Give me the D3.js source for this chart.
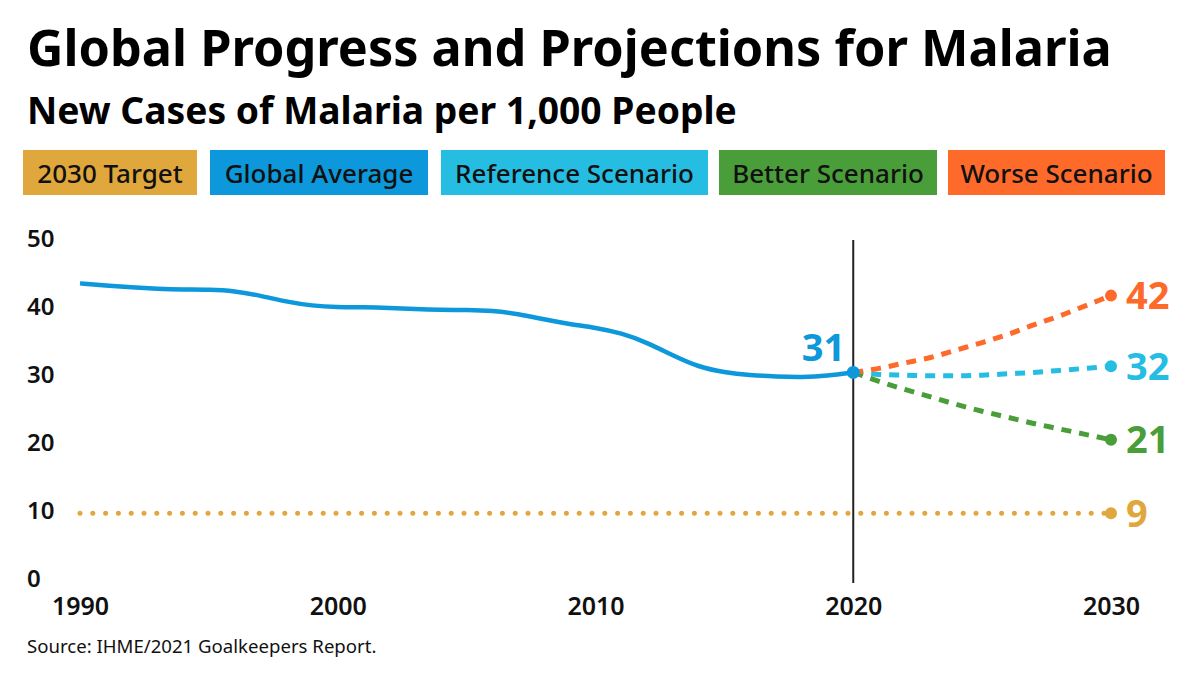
<!DOCTYPE html>
<html>
<head>
<meta charset="utf-8">
<script src="https://cdn.jsdelivr.net/npm/d3@7"></script>
<style>
  html, body { margin: 0; padding: 0; background: #fff; }
  svg { display: block; font-family: "Noto Sans", "Open Sans", sans-serif; }
</style>
</head>
<body>
<svg id="chart" width="1200" height="675"></svg>
<script>
// ---- data ----
const titleText = "Global Progress and Projections for Malaria";
const subtitleText = "New Cases of Malaria per 1,000 People";
const sourceText = "Source: IHME/2021 Goalkeepers Report.";

const legendLabels = ["2030 Target", "Global Average", "Reference Scenario", "Better Scenario", "Worse Scenario"];
const legendColors = ["#e0a83c", "#0c98da", "#26bde3", "#4a9e3a", "#fe6a2a"];

const xTicks = [1990, 2000, 2010, 2020, 2030];
const yTicks = [0, 10, 20, 30, 40, 50];

const globalYears = [1990,1991,1992,1993,1994,1995,1996,1997,1998,1999,2000,2001,2002,2003,2004,2005,2006,2007,2008,2009,2010,2011,2012,2013,2014,2015,2016,2017,2018,2019,2020];
const globalValues = [43.4,43.1,42.8,42.6,42.5,42.5,42.3,41.6,40.7,40.1,39.9,39.9,39.8,39.6,39.5,39.5,39.4,38.9,38.1,37.4,36.9,36.1,34.7,32.8,31.1,30.3,29.9,29.7,29.6,29.8,30.3];

const projYears = [2020,2021,2022,2023,2024,2025,2026,2027,2028,2029,2030];
const referenceValues = [30.3,30.0,29.9,29.8,29.8,29.9,30.1,30.3,30.6,30.9,31.2];
const betterValues = [30.3,29.0,27.8,26.7,25.6,24.6,23.7,22.8,22.0,21.2,20.4];
const worseValues = [30.3,30.9,31.7,32.5,33.6,34.7,35.9,37.3,38.6,40.1,41.6];

const targetYears = [1990, 2030];
const targetValues = [9.6, 9.6];

const endLabels = ["9", "31", "32", "21", "42"];

// ---- layout ----
const svg = d3.select("#chart");
const x = d3.scaleLinear().domain([1990, 2030]).range([80, 1111]);
const y = d3.scaleLinear().domain([0, 50]).range([578.5, 238.5]);

// Title
const title = svg.append("text").text(titleText)
  .attr("x", 27).attr("y", 66)
  .attr("font-weight", 700).attr("font-size", 50).attr("fill", "#000");
let tw = title.node().getComputedTextLength();
title.attr("font-size", 50 * 1085 / tw);

const sub = svg.append("text").text(subtitleText)
  .attr("x", 27).attr("y", 124)
  .attr("font-weight", 700).attr("font-size", 34).attr("fill", "#000");
let sw = sub.node().getComputedTextLength();
sub.attr("font-size", 34 * 710 / sw);

// Legend
const legendX = [23, 210, 441, 719, 948];
const legendR = [197, 428, 708, 937, 1165];
const lg = svg.append("g");
legendLabels.forEach((lab, i) => {
  lg.append("rect").attr("x", legendX[i]).attr("y", 150)
    .attr("width", legendR[i] - legendX[i]).attr("height", 45)
    .attr("fill", legendColors[i]);
  lg.append("text").text(lab)
    .attr("x", (legendX[i] + legendR[i]) / 2).attr("y", 173)
    .attr("text-anchor", "middle").attr("dominant-baseline", "central")
    .attr("font-size", 26).attr("font-weight", 500).attr("fill", "#111");
});

// Y axis labels
const yAxis = d3.axisLeft(y).tickValues(yTicks).tickSize(0).tickFormat(d3.format("d"));
const yg = svg.append("g").attr("transform", "translate(27,0)").call(yAxis);
yg.select(".domain").remove();
yg.selectAll("text").attr("x", 0).attr("text-anchor", "start").attr("dy", "0.32em")
  .attr("font-size", 24).attr("font-weight", 600).attr("fill", "#111")
  .attr("font-family", "'Noto Sans', sans-serif");

// X axis labels
const xAxis = d3.axisBottom(x).tickValues(xTicks).tickSize(0).tickFormat(d3.format("d"));
const xg = svg.append("g").attr("transform", "translate(0,606)").call(xAxis);
xg.select(".domain").remove();
xg.selectAll("text").attr("y", 0).attr("dy", "0.36em")
  .attr("font-size", 25).attr("font-weight", 600).attr("fill", "#111")
  .attr("font-family", "'Noto Sans', sans-serif");

// 2020 vertical line
svg.append("line").attr("x1", x(2020)).attr("x2", x(2020))
  .attr("y1", 240).attr("y2", 583).attr("stroke", "#222").attr("stroke-width", 2);

const line = d3.line().x(d => x(d[0])).y(d => y(d[1])).curve(d3.curveMonotoneX);

// target dotted
svg.append("path").datum(targetYears.map((d, i) => [d, targetValues[i]]))
  .attr("d", line).attr("fill", "none").attr("stroke", legendColors[0])
  .attr("stroke-width", 5).attr("stroke-linecap", "round")
  .attr("stroke-dasharray", "0 12.8");

// projections
const proj = [
  [referenceValues, legendColors[2]],
  [betterValues, legendColors[3]],
  [worseValues, legendColors[4]]
];
proj.forEach(([vals, col]) => {
  svg.append("path").datum(projYears.map((d, i) => [d, vals[i]]))
    .attr("d", line).attr("fill", "none").attr("stroke", col)
    .attr("stroke-width", 5).attr("stroke-dasharray", "10 8");
});

// global line
svg.append("path").datum(globalYears.map((d, i) => [d, globalValues[i]]))
  .attr("d", d3.line().x(d => x(d[0])).y(d => y(d[1])).curve(d3.curveBasis))
  .attr("fill", "none").attr("stroke", legendColors[1])
  .attr("stroke-width", 4.5);

// end dots
const ends = [
  [2030, targetValues[1], legendColors[0], endLabels[0]],
  [2030, referenceValues[10], legendColors[2], endLabels[2]],
  [2030, betterValues[10], legendColors[3], endLabels[3]],
  [2030, worseValues[10], legendColors[4], endLabels[4]]
];
ends.forEach(([yr, v, col, lab]) => {
  svg.append("circle").attr("cx", x(yr)).attr("cy", y(v)).attr("r", 6).attr("fill", col);
  svg.append("text").text(lab).attr("x", x(yr) + 15).attr("y", y(v))
    .attr("dy", "0.36em").attr("font-size", 38).attr("font-weight", 700).attr("fill", col);
});
// 2020 dot + label
svg.append("circle").attr("cx", x(2020)).attr("cy", y(globalValues[30])).attr("r", 6.5).attr("fill", legendColors[1]);
svg.append("text").text(endLabels[1]).attr("x", x(2020) - 8).attr("y", y(globalValues[30]) - 11)
  .attr("text-anchor", "end").attr("font-size", 38).attr("font-weight", 700).attr("fill", legendColors[1]);

// source
svg.append("text").text(sourceText).attr("x", 27).attr("y", 653)
  .attr("font-size", 18.6).attr("fill", "#111");
</script>
</body>
</html>
